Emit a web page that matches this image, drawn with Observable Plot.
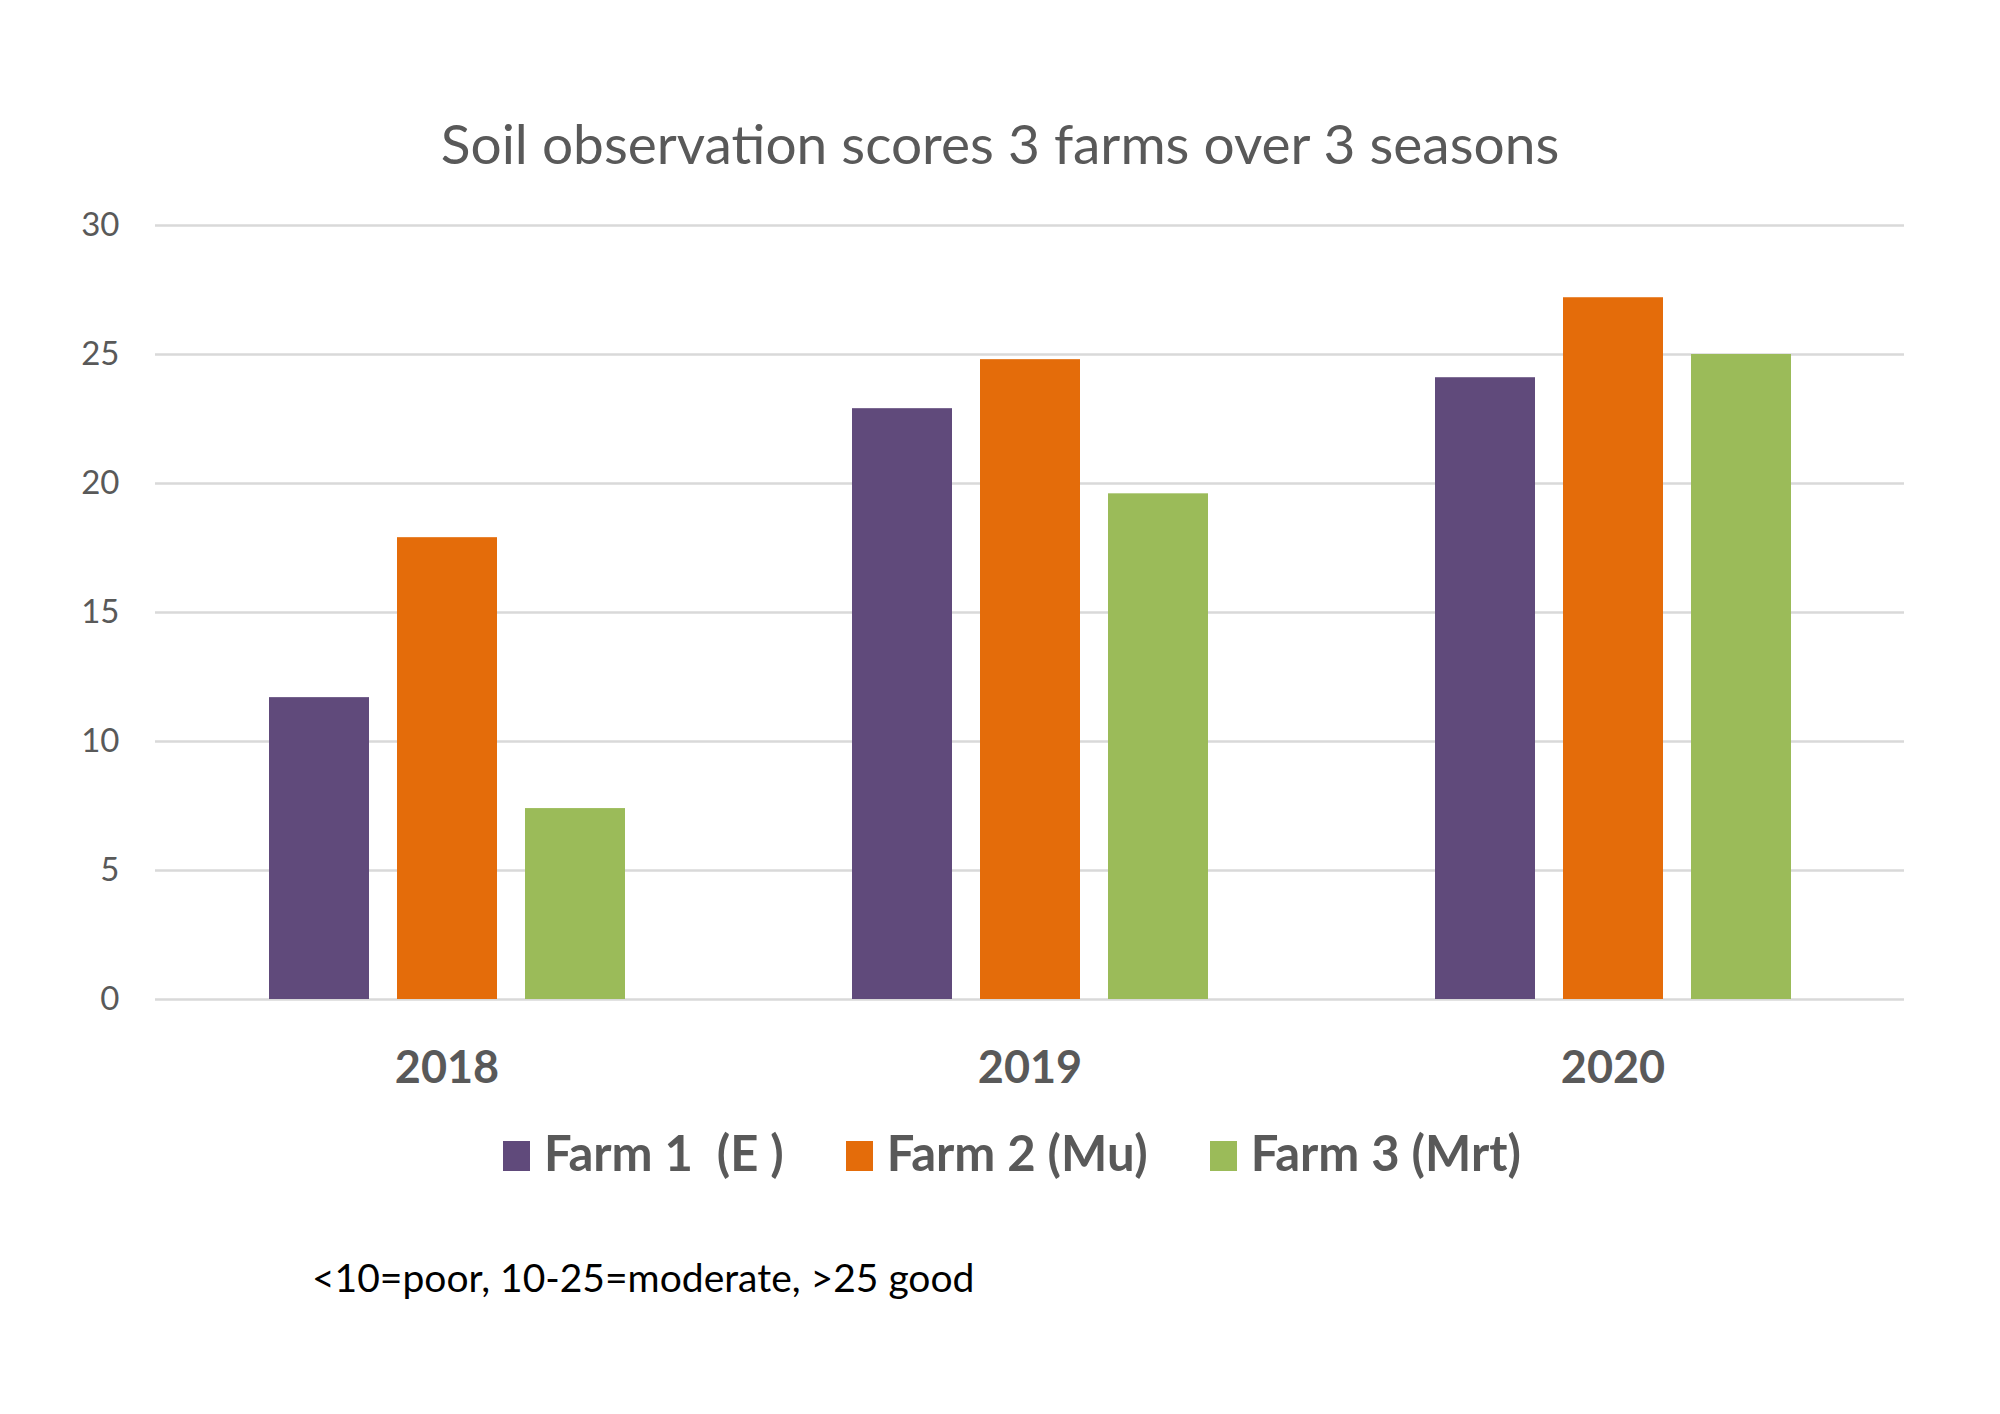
<!DOCTYPE html>
<html>
<head>
<meta charset="utf-8">
<script src="https://cdn.jsdelivr.net/npm/d3@7"></script>
<script src="https://cdn.jsdelivr.net/npm/@observablehq/plot@0.6"></script>
<style>
  body { margin: 0; background: #fff; }
  #wrap { position: relative; width: 2000px; height: 1414px; background: #fff; font-family: Lato, "Open Sans", sans-serif; overflow: hidden; }
  #title { position: absolute; left: 0; width: 2000px; top: 116px; text-align: center; font-size: 55px; line-height: 55px; color: #595959; }
  #chart { position: absolute; left: 0; top: 190px; }
  #legend { position: absolute; left: 12px; width: 2000px; top: 1128px; display: flex; justify-content: center; font-size: 49px; line-height: 49px; font-weight: 700; color: #595959; }
  #legend .item { display: inline-block; white-space: pre; margin: 0 31px; }
  #legend .sw { display: inline-block; width: 27px; height: 30px; margin-right: 14px; vertical-align: baseline; }
  #caption { position: absolute; left: 312px; top: 1258px; font-size: 39px; line-height: 39px; color: #000; white-space: pre; }
</style>
</head>
<body>
<div id="wrap">
  <div id="title"></div>
  <div id="chart"></div>
  <div id="legend"></div>
  <div id="caption"></div>
</div>
<script>
const titleText = "Soil observation scores 3 farms over 3 seasons";
const captionText = "<10=poor, 10-25=moderate, >25 good";
const years = ["2018", "2019", "2020"];
const farms = ["Farm 1  (E )", "Farm 2 (Mu)", "Farm 3 (Mrt)"];
const farm1 = [11.7, 22.9, 24.1];
const farm2 = [17.9, 24.8, 27.2];
const farm3 = [7.4, 19.6, 25.0];
const colors = ["#604A7B", "#E46C0A", "#9BBB59"];
const yTicks = [0, 5, 10, 15, 20, 25, 30];

const series = [farm1, farm2, farm3];
const data = years.flatMap((year, i) => farms.map((farm, j) => ({year, farm, value: series[j][i]})));

document.getElementById("title").textContent = titleText;
document.getElementById("caption").textContent = captionText;

const plot = Plot.plot({
  width: 2000,
  height: 910,
  marginTop: 35,
  marginBottom: 101,
  marginLeft: 154,
  marginRight: 96,
  style: {fontFamily: "Lato, 'Open Sans', sans-serif", background: "#fff"},
  fx: {domain: years, padding: 0, label: null},
  x: {domain: farms, paddingInner: 0.22, paddingOuter: 0.88, axis: null},
  y: {domain: [0, 30], axis: null},
  color: {domain: farms, range: colors},
  marks: [
    Plot.ruleY(yTicks, {stroke: "#d9d9d9", strokeWidth: 2.5}),
    Plot.barY(data, {fx: "year", x: "farm", y: "value", fill: "farm"}),
    Plot.axisY({ticks: yTicks, tickSize: 0, tickPadding: 36, fontSize: 33, color: "#595959", label: null}),
    Plot.axisFx({anchor: "bottom", tickSize: 0, tickPadding: 52, fontSize: 45, fontWeight: 700, color: "#595959", label: null})
  ]
});
document.getElementById("chart").appendChild(plot);

const color = plot.scale("color");
const legend = document.getElementById("legend");
farms.forEach((f, i) => {
  const item = document.createElement("span");
  item.className = "item";
  const sw = document.createElement("span");
  sw.className = "sw";
  sw.style.background = color.range[i];
  item.appendChild(sw);
  item.appendChild(document.createTextNode(f));
  legend.appendChild(item);
});
</script>
</body>
</html>
